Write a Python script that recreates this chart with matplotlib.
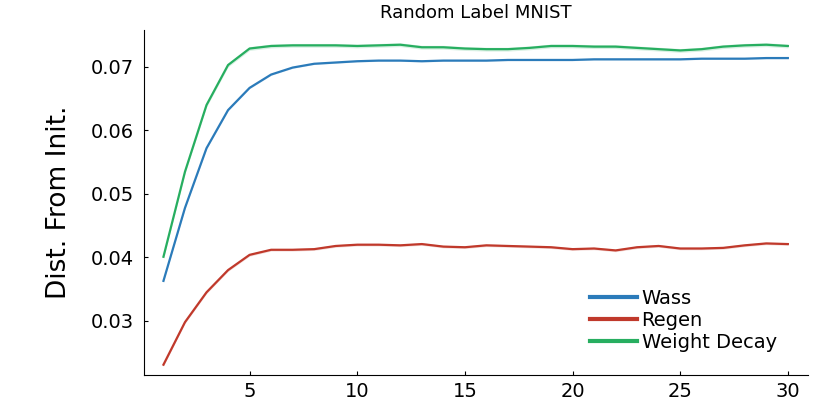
import numpy as np
import matplotlib
matplotlib.use("Agg")
import matplotlib.pyplot as plt

# epochs
epochs = list(range(1, 31))

# Distancia al inicio
wass = [0.0363, 0.0478, 0.0572, 0.0632, 0.0667, 0.0688, 0.0699, 0.0705, 0.0707, 0.0709,
        0.0710, 0.0710, 0.0709, 0.0710, 0.0710, 0.0710, 0.0711, 0.0711, 0.0711, 0.0711,
        0.0712, 0.0712, 0.0712, 0.0712, 0.0712, 0.0713, 0.0713, 0.0713, 0.0714, 0.0714]
regen = [0.0231, 0.0298, 0.0345, 0.0380, 0.0404, 0.0412, 0.0412, 0.0413, 0.0418, 0.0420,
         0.0420, 0.0419, 0.0421, 0.0417, 0.0416, 0.0419, 0.0418, 0.0417, 0.0416, 0.0413,
         0.0414, 0.0411, 0.0416, 0.0418, 0.0414, 0.0414, 0.0415, 0.0419, 0.0422, 0.0421]
wdecay = [0.0401, 0.0535, 0.0640, 0.0703, 0.0729, 0.0733, 0.0734, 0.0734, 0.0734, 0.0733,
          0.0734, 0.0735, 0.0731, 0.0731, 0.0729, 0.0728, 0.0728, 0.0730, 0.0733, 0.0733,
          0.0732, 0.0732, 0.0730, 0.0728, 0.0726, 0.0728, 0.0732, 0.0734, 0.0735, 0.0733]

# desviacion (banda) aproximada
wass_sd = 0.00012
regen_sd = 0.0002
wdecay_sd = 0.0003

labels = ["Wass", "Regen", "Weight Decay"]
colors = ["#2b7bba", "#c0392b", "#27ae60"]

fig = plt.figure(figsize=(8.14, 4.07), dpi=100)
ax = fig.add_axes([0.177, 0.079, 0.816, 0.847])

for y, sd, lab, c in zip([wass, regen, wdecay], [wass_sd, regen_sd, wdecay_sd], labels, colors):
    y = np.array(y)
    ax.fill_between(epochs, y - sd, y + sd, color=c, alpha=0.18, linewidth=0)
    ax.plot(epochs, y, color=c, lw=1.6, label=lab)

ax.set_xlim(0.1, 30.95)
ax.set_ylim(0.0215, 0.0758)
ax.set_xticks([5, 10, 15, 20, 25, 30])
ax.set_yticks([0.03, 0.04, 0.05, 0.06, 0.07])
ax.set_yticklabels(["0.03", "0.04", "0.05", "0.06", "0.07"])
ax.tick_params(direction="in", labelsize=14, length=3, width=0.8)
ax.tick_params(axis="y", pad=7.5)
ax.tick_params(axis="x", pad=5.5)
ax.spines["top"].set_visible(False)
ax.spines["right"].set_visible(False)
ax.set_ylabel("Dist. From Init.", fontsize=19, labelpad=13)
ax.set_title("Random Label MNIST", fontsize=13, pad=9)

leg = ax.legend(loc="lower right", bbox_to_anchor=(0.97, 0.033), frameon=False,
                fontsize=14, handlelength=2.4, labelspacing=0.16, handletextpad=0.25,
                borderaxespad=0.2)
for h in leg.get_lines():
    h.set_linewidth(3)

plt.savefig("out.png", dpi=100)
